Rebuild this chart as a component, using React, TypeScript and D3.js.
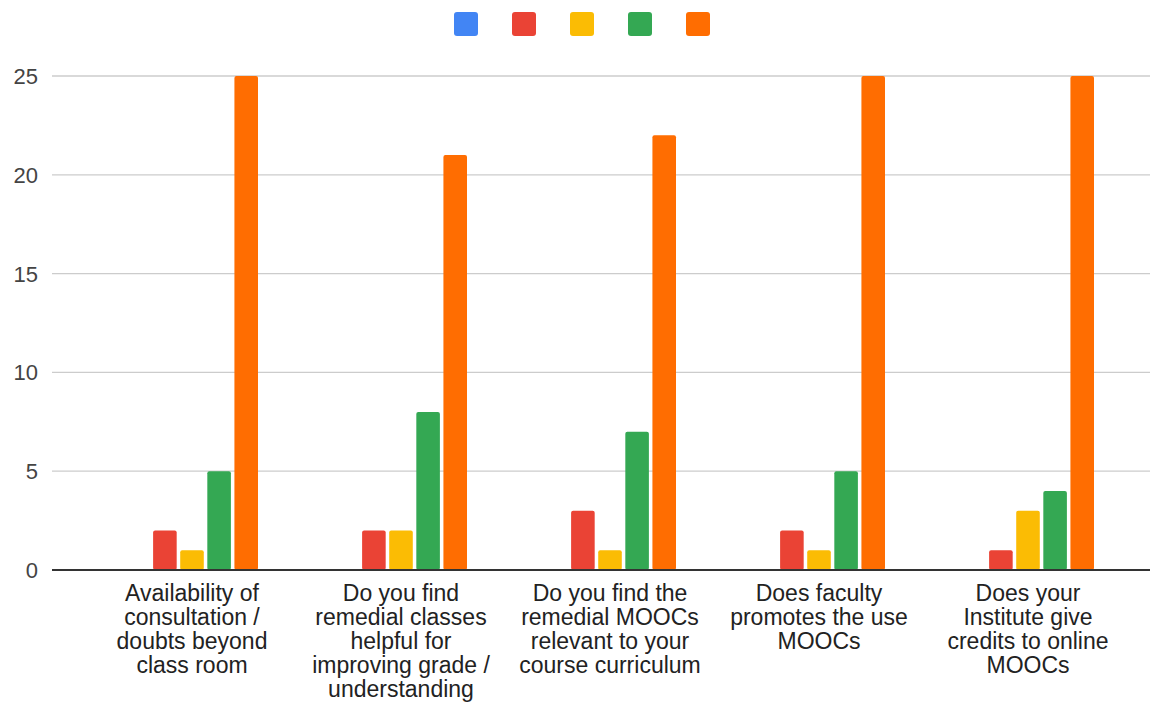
import React from "react";
import * as d3 from "d3";

const categories: string[][] = [
  ["Availability of", "consultation /", "doubts beyond", "class room"],
  ["Do you find", "remedial classes", "helpful for", "improving grade /", "understanding"],
  ["Do you find the", "remedial MOOCs", "relevant to your", "course curriculum"],
  ["Does faculty", "promotes the use", "MOOCs"],
  ["Does your", "Institute give", "credits to online", "MOOCs"],
];
const seriesNames = ["s1", "s2", "s3", "s4", "s5"];
const seriesColors = ["#4285F4", "#EA4335", "#FBBC04", "#34A853", "#FF6D01"];
const s1 = [0, 0, 0, 0, 0];
const s2 = [2, 2, 3, 2, 1];
const s3 = [1, 2, 1, 1, 3];
const s4 = [5, 8, 7, 5, 4];
const s5 = [25, 21, 22, 25, 25];
const series = [s1, s2, s3, s4, s5];
const yTicks = [0, 5, 10, 15, 20, 25];

export default function App() {
  const W = 1159, H = 708;
  const gridLeft = 52, gridRight = 1150;
  const y = d3.scaleLinear().domain([0, 25]).range([570, 76]);
  const x0 = d3.scaleBand<number>().domain(d3.range(categories.length)).range([87.5, 1132.5]).paddingInner(0).paddingOuter(0);
  const groupW = 132;
  const x1 = d3.scaleBand<number>().domain(d3.range(series.length)).range([0, groupW]).paddingInner(0.13);
  const font = "Arial, 'Liberation Sans', sans-serif";
  const legendStep = 58;
  const legendStart = 466 - 12;
  return (
    <svg width={W} height={H} style={{ display: "block", position: "absolute", left: 0, top: 0, background: "#fff" }}>
      <rect width={W} height={H} fill="#fff" />
      {/* legend */}
      {seriesNames.map((n, i) => (
        <rect key={n} x={legendStart + i * legendStep} y={12} width={24} height={24} rx={3} fill={seriesColors[i]} />
      ))}
      {/* grid */}
      {yTicks.map((t) => (
        <g key={t}>
          {t !== 0 && <line x1={gridLeft} x2={gridRight} y1={y(t)} y2={y(t)} stroke="#cccccc" strokeWidth={1.3} />}
          <text x={38} y={y(t)} dy="0.36em" textAnchor="end" fontFamily={font} fontSize={22} fill="#444">{t}</text>
        </g>
      ))}
      {/* bars */}
      {categories.map((_, ci) => {
        const gx = (x0(ci) as number) + x0.bandwidth() / 2 - groupW / 2;
        return (
          <g key={ci} transform={`translate(${gx},0)`}>
            {series.map((s, si) => {
              const v = s[ci];
              if (v <= 0) return null;
              return (
                <rect key={si} x={x1(si)} y={y(v)} width={x1.bandwidth()} height={y(0) - y(v)} rx={2} fill={seriesColors[si]} />
              );
            })}
          </g>
        );
      })}
      <line x1={gridLeft} x2={gridRight} y1={y(0)} y2={y(0)} stroke="#333" strokeWidth={2} />
      {/* x labels */}
      {categories.map((lines, ci) => {
        const cx = (x0(ci) as number) + x0.bandwidth() / 2;
        return (
          <text key={ci} x={cx} y={601} textAnchor="middle" fontFamily={font} fontSize={23} fill="#222">
            {lines.map((l, li) => (
              <tspan key={li} x={cx} dy={li === 0 ? 0 : 24}>{l}</tspan>
            ))}
          </text>
        );
      })}
    </svg>
  );
}
